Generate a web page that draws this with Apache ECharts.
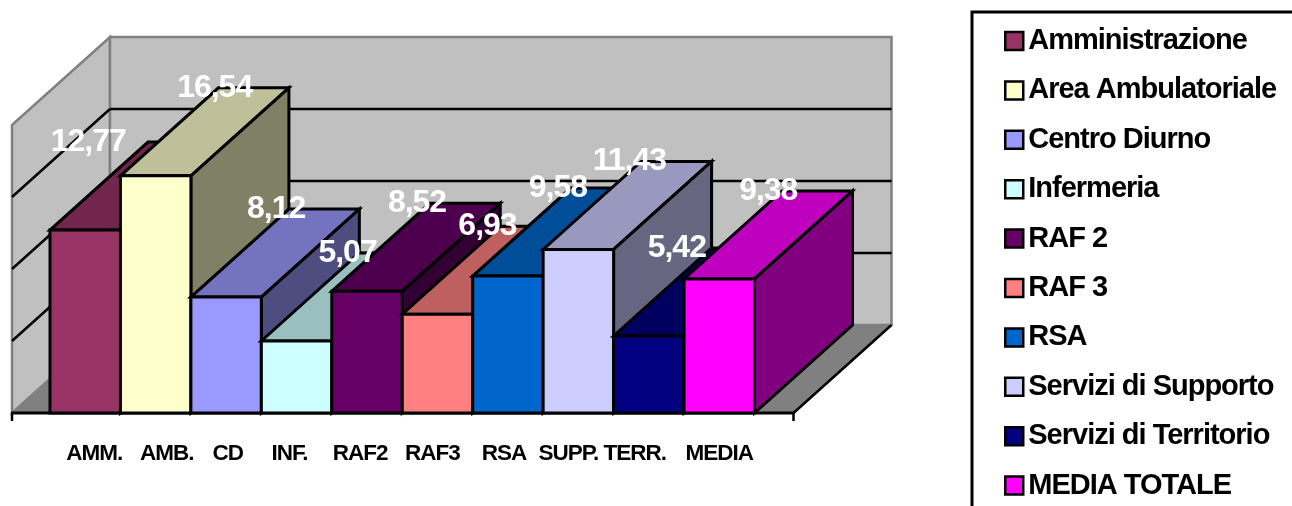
<!DOCTYPE html>
<html>
<head>
<meta charset="utf-8">
<style>html,body{margin:0;padding:0;background:#fff;overflow:hidden}#c{width:1292px;height:506px}</style>
<script src="https://cdn.jsdelivr.net/npm/echarts@6/dist/echarts.min.js"></script>
</head>
<body>
<div id="c"></div>
<script>
const categories = ['AMM.', 'AMB.', 'CD', 'INF.', 'RAF2', 'RAF3', 'RSA', 'SUPP.', 'TERR.', 'MEDIA'];
const legendNames = ['Amministrazione', 'Area Ambulatoriale', 'Centro Diurno', 'Infermeria', 'RAF 2', 'RAF 3', 'RSA', 'Servizi di Supporto', 'Servizi di Territorio', 'MEDIA TOTALE'];
const values = [12.77, 16.54, 8.12, 5.07, 8.52, 6.93, 9.58, 11.43, 5.42, 9.38];
const colors = ['#993366', '#FFFFCC', '#9999FF', '#CCFFFF', '#660066', '#FF8080', '#0066CC', '#CCCCFF', '#000080', '#FF00FF'];
const gridValues = [5, 10, 15];
const wallTop = 20;
const labelShift = [3, 59, 50, 51, 50, 50, 50, 51, 28, 49];
const tickShift = [9, 11, 1.5, -7, -7, -5, -4, -10, -14, 0];

// Tight text spacing of the original
const origGet = HTMLCanvasElement.prototype.getContext;
HTMLCanvasElement.prototype.getContext = function (t, o) {
  const ctx = origGet.call(this, t, o);
  if (t === '2d' && ctx && 'letterSpacing' in ctx) ctx.letterSpacing = '-1px';
  return ctx;
};

const DX = 98, DY = -88, EXT_L = 38, EXT_R = 39, TOP_NUDGE = 1;
const FONT = '"Liberation Sans", Arial, sans-serif';

function poly(points, fill, stroke, lw) {
  return { type: 'polygon', shape: { points }, style: { fill, stroke: stroke || 'none', lineWidth: lw === undefined ? 3 : lw, lineJoin: 'miter' } };
}
function line(a, b, stroke, lw) {
  return { type: 'line', shape: { x1: a[0], y1: a[1], x2: b[0], y2: b[1] }, style: { stroke, lineWidth: lw } };
}
function shade(hex, k) {
  const n = parseInt(hex.slice(1), 16);
  const f = s => Math.round(((n >> s) & 255) * k);
  return `rgb(${f(16)},${f(8)},${f(0)})`;
}

function renderWalls(params, api) {
  const band = api.size([1, 0])[0];
  const first = api.coord([0, 0]);
  const last = api.coord([categories.length - 1, 0]);
  const xL = first[0] - band / 2 - EXT_L;
  const xR = last[0] + band / 2 + EXT_R;
  const y0 = first[1];
  const yT = api.coord([0, wallTop])[1];
  const gray = '#808080', wall = '#C0C0C0';
  const kids = [
    poly([[xL, y0], [xL + DX, y0 + DY], [xR + DX, y0 + DY], [xR, y0]], gray, gray, 1.5),
    poly([[xL, yT], [xL + DX, yT + DY], [xL + DX, y0 + DY], [xL, y0]], wall, gray, 2.5),
    poly([[xL + DX, yT + DY], [xR + DX, yT + DY], [xR + DX, y0 + DY], [xL + DX, y0 + DY]], wall, gray, 2.5)
  ];
  gridValues.forEach(v => {
    const y = api.coord([0, v])[1];
    kids.push(line([xL, y], [xL + DX, y + DY], '#000', 2.5));
    kids.push(line([xL + DX, y + DY], [xR + DX, y + DY], '#000', 2.5));
  });
  kids.push(line([xR, y0], [xR + DX, y0 + DY], '#000', 2.5));
  kids.push(line([xL - 1, y0], [xR + 1, y0], '#000', 3));
  kids.push(line([xL, y0], [xL, y0 + 8], '#000', 2.5));
  kids.push(line([xR, y0], [xR, y0 + 8], '#000', 2.5));
  return { type: 'group', children: kids };
}

function renderBar(color) {
  return function (params, api) {
    const i = api.value(0), v = api.value(1);
    const band = api.size([1, 0])[0];
    const top = api.coord([i, v]);
    const base = api.coord([i, 0]);
    const x0 = top[0] - band / 2, x1 = top[0] + band / 2;
    const yT = top[1] + TOP_NUDGE, yB = base[1];
    return {
      type: 'group',
      children: [
        poly([[x0, yT], [x1, yT], [x1 + DX, yT + DY], [x0 + DX, yT + DY]], shade(color, 0.75), '#000'),
        poly([[x1, yT], [x1 + DX, yT + DY], [x1 + DX, yB + DY], [x1, yB]], shade(color, 0.5), '#000'),
        poly([[x0, yT], [x1, yT], [x1, yB], [x0, yB]], color, '#000')
      ]
    };
  };
}

function renderLabel(params, api) {
  const i = api.value(0), v = api.value(1);
  const p = api.coord([i, v]);
  return {
    type: 'text',
    x: p[0] + labelShift[i],
    y: p[1] + DY + 1,
    style: {
      text: v.toFixed(2).replace('.', ','),
      fill: '#fff',
      font: 'bold 32px ' + FONT,
      align: 'center',
      verticalAlign: 'middle'
    }
  };
}

const tickRich = {};
tickShift.forEach((s, i) => {
  tickRich['t' + i] = {
    color: '#000', fontFamily: FONT, fontWeight: 'bold', fontSize: 22.5,
    padding: s >= 0 ? [0, 0, 0, 2 * s] : [0, -2 * s, 0, 0]
  };
});

const series = [{
  type: 'custom', name: 'walls', silent: true, z: 1,
  renderItem: renderWalls, data: [[0, 0]], encode: { x: 0, y: 1 }
}];
values.forEach((v, i) => {
  series.push({
    type: 'custom', name: legendNames[i], z: 2,
    itemStyle: { color: colors[i] },
    renderItem: renderBar(colors[i]),
    data: [[i, v]], encode: { x: 0, y: 1 }
  });
});
series.push({
  type: 'custom', name: 'labels', silent: true, z: 5,
  renderItem: renderLabel,
  data: values.map((v, i) => [i, v]), encode: { x: 0, y: 1 }
});

const chart = echarts.init(document.getElementById('c'), null, { renderer: 'canvas', width: 1292, height: 506 });
chart.setOption({
  animation: false,
  backgroundColor: '#fff',
  grid: { left: 50, top: 125, width: 704.5, height: 288 },
  xAxis: {
    type: 'category', data: categories,
    axisLine: { show: false }, axisTick: { show: false },
    axisLabel: {
      interval: 0, margin: 30, hideOverlap: false,
      formatter: (val, idx) => `{t${idx}|${val}}`,
      rich: tickRich
    }
  },
  yAxis: {
    type: 'value', min: 0, max: wallTop, interval: 5,
    axisLine: { show: false }, axisTick: { show: false }, axisLabel: { show: false }, splitLine: { show: false }
  },
  legend: {
    data: legendNames, orient: 'vertical', left: 1004, top: 27, height: 478, padding: 0,
    itemWidth: 18, itemHeight: 18, itemGap: 21.4, icon: 'rect', selectedMode: false,
    itemStyle: { borderColor: '#000', borderWidth: 2.5 },
    textStyle: { color: '#000', fontFamily: FONT, fontWeight: 'bold', fontSize: 29 }
  },
  graphic: [{
    type: 'rect', silent: true,
    shape: { x: 972, y: 12, width: 400, height: 600 },
    style: { fill: '#fff', stroke: '#000', lineWidth: 3 }, z: 0
  }],
  tooltip: { show: false },
  series
});
</script>
</body>
</html>
